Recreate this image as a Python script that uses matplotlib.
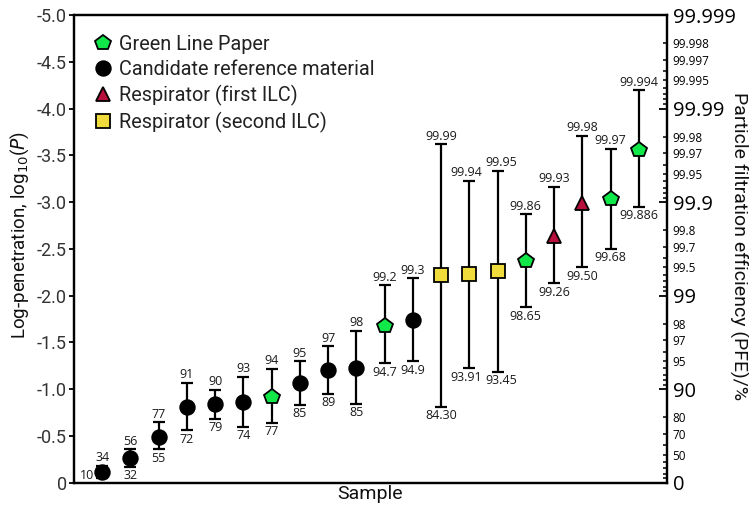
import numpy as np
import matplotlib
matplotlib.use("Agg")
import matplotlib.pyplot as plt
from matplotlib.ticker import FixedLocator, FixedFormatter, NullLocator

plt.rcParams['font.family'] = ['Roboto', 'DejaVu Sans']

# sample index 1..20, group of each sample
groups = ['cand', 'cand', 'cand', 'cand', 'cand', 'cand', 'green', 'cand', 'cand', 'cand',
          'green', 'cand', 'resp2', 'resp2', 'resp2', 'green', 'resp1', 'resp1', 'green', 'green']

# log10(P): marker centre and the two cap ends
center = [-0.11, -0.26, -0.49, -0.81, -0.84, -0.86, -0.92, -1.07, -1.21, -1.23,
          -1.68, -1.74, -2.22, -2.23, -2.26, -2.37, -2.64, -2.99, -3.03, -3.56]
upper = [-0.18, -0.355, -0.645, -1.07, -0.995, -1.135, -1.22, -1.30, -1.46, -1.625,
         -2.11, -2.185, -3.62, -3.23, -3.335, -2.87, -3.165, -3.71, -3.57, -4.195]
lower = [-0.046, -0.17, -0.356, -0.56, -0.68, -0.595, -0.638, -0.83, -0.948, -0.845,
         -1.276, -1.297, -0.81, -1.222, -1.187, -1.874, -2.131, -2.302, -2.502, -2.948]

upper_labels = ['34', '56', '77', '91', '90', '93', '94', '95', '97', '98',
                '99.2', '99.3', '99.99', '99.94', '99.95', '99.86', '99.93', '99.98', '99.97', '99.994']
lower_labels = ['10', '32', '55', '72', '79', '74', '77', '85', '89', '85',
                '94.7', '94.9', '84.30', '93.91', '93.45', '98.65', '99.26', '99.50', '99.68', '99.886']

styles = {
    'green': dict(label='Green Line Paper', marker='p', color='#10e84a', ms=11.5),
    'cand': dict(label='Candidate reference material', marker='o', color='black', ms=10.5),
    'resp1': dict(label='Respirator (first ILC)', marker='^', color='#b8103c', ms=10.5),
    'resp2': dict(label='Respirator (second ILC)', marker='s', color='#efdc3c', ms=10),
}

x = np.arange(1, len(center) + 1)
c = np.array(center)
up = np.array(upper)
lo = np.array(lower)

fig = plt.figure(figsize=(7.49, 5.14), dpi=100)
ax = fig.add_axes([0.0988, 0.0609, 0.7917, 0.9099])

ax.errorbar(x, c, yerr=[c - up, lo - c], fmt='none', ecolor='black',
            elinewidth=1.6, capsize=4, capthick=1.6, zorder=2)

handles = {}
for g, st in styles.items():
    idx = [i for i, gg in enumerate(groups) if gg == g]
    h, = ax.plot(x[idx], c[idx], linestyle='none', marker=st['marker'], ms=st['ms'],
                 markerfacecolor=st['color'], markeredgecolor='black', markeredgewidth=1.3,
                 label=st['label'], zorder=3)
    handles[g] = h

label_font = dict(family=['Open Sans', 'DejaVu Sans'], fontsize=9, color='#1a1a1a')
for i in range(len(x)):
    dx = 0
    if i == 13:
        dx = -2
    elif i == 14:
        dx = 3
    ax.annotate(upper_labels[i], (x[i], up[i]), xytext=(dx, 5.8), textcoords='offset points',
                ha='center', va='center', **label_font)
    if i == 0:
        ax.annotate(lower_labels[i], (x[i], c[i]), xytext=(-11, -2.4), textcoords='offset points',
                    ha='center', va='center', **label_font)
    else:
        ax.annotate(lower_labels[i], (x[i], lo[i]), xytext=(dx, -6.3), textcoords='offset points',
                    ha='center', va='center', **label_font)

ax.set_xlim(0, 21)
ax.set_ylim(0, -5)
ax.xaxis.set_major_locator(NullLocator())
ax.set_yticks(np.arange(0, -5.01, -0.5))
ax.set_yticklabels(['0'] + ['%.1f' % v for v in np.arange(-0.5, -5.01, -0.5)])
ax.tick_params(axis='y', direction='out', length=3.5, width=1.3, pad=1.5,
               labelsize=13, labelcolor='#333333')
ax.set_xlabel('Sample', fontsize=14, labelpad=2, color='#111111')
ax.set_ylabel('Log-penetration, log$_{10}$($P$)', fontsize=13.5, color='#111111')
ax.yaxis.set_label_coords(-0.072, 0.53)

for s in ax.spines.values():
    s.set_linewidth(1.6)

# right axis: particle filtration efficiency
ax2 = ax.twinx()
ax2.set_ylim(ax.get_ylim())
major_pos = [0, -1, -2, -3, -4, -5]
major_lab = ['0', '90', '99', '99.9', '99.99', '99.999']
minor_pos = []
minor_lab = []
for n in range(-1, -6, -1):
    for k in range(2, 10):
        minor_pos.append(np.log10(k * 10.0 ** n))
        if k in (2, 3, 5):
            pfe = 100 - k * 10.0 ** (n + 2)
            minor_lab.append(('%.*f' % (max(0, -(n + 2)), pfe)))
        else:
            minor_lab.append('')
ax2.yaxis.set_major_locator(FixedLocator(major_pos))
ax2.yaxis.set_major_formatter(FixedFormatter(major_lab))
ax2.yaxis.set_minor_locator(FixedLocator(minor_pos))
ax2.yaxis.set_minor_formatter(FixedFormatter(minor_lab))
ax2.tick_params(which='major', direction='in', length=6, width=1.3, pad=4, labelsize=14.5)
ax2.tick_params(which='minor', direction='in', length=3, width=1.1, pad=4, labelsize=8.5)
for t in ax2.get_yticklabels(which='both'):
    t.set_family(['Open Sans', 'DejaVu Sans'])
ax2.set_ylabel('Particle filtration efficiency (PFE)/%', rotation=270, va='center',
               fontsize=14, color='#111111')
ax2.yaxis.set_label_coords(1.12, 0.505)
for s in ax2.spines.values():
    s.set_linewidth(1.6)

leg = ax.legend(handles=[handles['green'], handles['cand'], handles['resp1'], handles['resp2']],
                loc='upper left', bbox_to_anchor=(0.036, 0.958), frameon=False, fontsize=14.3,
                handlelength=0.75, handletextpad=0.45, labelspacing=0.3, borderaxespad=0,
                borderpad=0)
for t in leg.get_texts():
    t.set_color('#222222')

fig.savefig('out.png', dpi=100)
